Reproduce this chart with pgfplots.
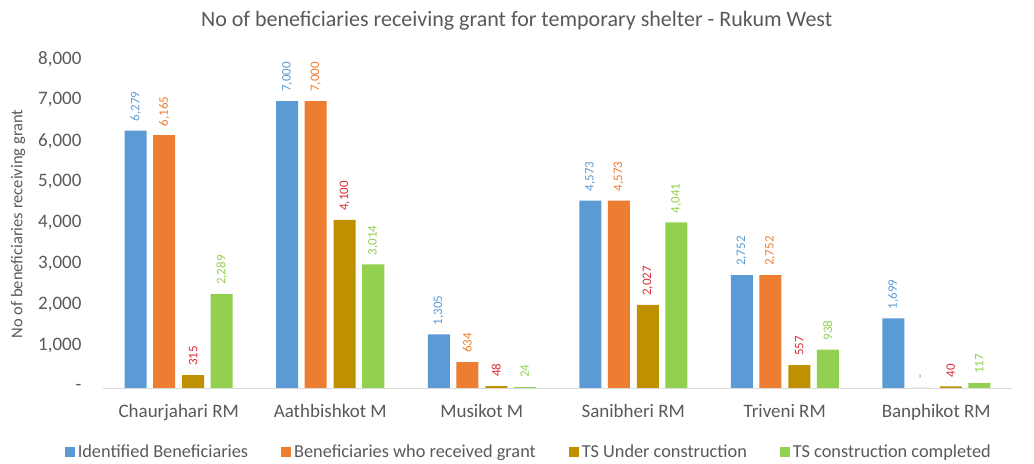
\documentclass[border=0pt]{standalone}
\usepackage{fontspec}
\setmainfont{Carlito}
\usepackage{pgfplots}
\pgfplotsset{compat=1.18}
\definecolor{cblue}{HTML}{5B9BD5}
\definecolor{corange}{HTML}{ED7D31}
\definecolor{cgold}{HTML}{BF9000}
\definecolor{cgreen}{HTML}{92D050}
\definecolor{cred}{RGB}{220,45,55}
\definecolor{txt}{HTML}{595959}
\definecolor{axl}{HTML}{D9D9D9}

\begin{document}
\begin{tikzpicture}
\begin{axis}[
  at={(0,0)}, anchor=south west,
  scale only axis, width=909pt, height=328pt,
  xmin=-0.5, xmax=5.5, ymin=0, ymax=8000,
  axis x line=bottom, axis y line=left,
  x axis line style={-, draw=axl, line width=0.8pt},
  y axis line style={draw=none},
  major tick length=0pt,
  xtick={0,...,5},
  xticklabels={Chaurjahari RM, Aathbishkot M, Musikot M, Sanibheri RM, Triveni RM, Banphikot RM},
  ytick={0,1000,...,8000},
  yticklabels={{-},{1,000},{2,000},{3,000},{4,000},{5,000},{6,000},{7,000},{8,000}},
  tick label style={font=\fontsize{19}{22}\selectfont, text=txt},
  /pgf/number format/assume math mode=true,
  yticklabel style={anchor=east, xshift=-18pt, yshift=1pt},
  xticklabel style={anchor=north, yshift=-13pt},
  ylabel={No of beneficiaries receiving grant},
  ylabel style={at={(axis description cs:-0.0935,0.5)}, anchor=center, font=\fontsize{16.5}{19}\selectfont, text=txt},
  title={No of beneficiaries receiving grant for temporary shelter - Rukum West},
  title style={at={(axis description cs:0.455,1.10)}, anchor=center, font=\fontsize{22}{26}\selectfont, text=txt},
  bar width=22pt,
  nodes near coords={\rotatebox{90}{\pgfmathfloatifflags{\pgfplotspointmeta}{0}{-}{\pgfmathprintnumber[1000 sep={,}]{\pgfplotspointmeta}}}},
  every node near coord/.append style={anchor=south, font=\fontsize{13}{15}\selectfont, inner sep=0pt, yshift=9pt},
  legend columns=4,
  legend style={at={(axis description cs:0.469,-0.195)}, anchor=center, draw=none, fill=none,
    font=\fontsize{18.3}{22}\selectfont, text=txt,
    /tikz/every even column/.append style={column sep=30pt},
    /tikz/every odd column/.append style={column sep=0pt},
    nodes={inner xsep=3pt}},
  legend image code/.code={\fill[#1] (0pt,-5pt) rectangle (10pt,5pt);},
]
\addplot[ybar, bar shift=-43pt, fill=cblue, draw=none, every node near coord/.append style={text=cblue, xshift=-43pt}]
  coordinates {(0,6279) (1,7000) (2,1305) (3,4573) (4,2752) (5,1699)};
\addplot[ybar, bar shift=-14.5pt, fill=corange, draw=none, every node near coord/.append style={text=corange, xshift=-14.5pt}]
  coordinates {(0,6165) (1,7000) (2,634) (3,4573) (4,2752) (5,0)};
\addplot[ybar, bar shift=14.5pt, fill=cgold, draw=none, every node near coord/.append style={text=cred, xshift=14.5pt}]
  coordinates {(0,315) (1,4100) (2,48) (3,2027) (4,557) (5,40)};
\addplot[ybar, bar shift=43pt, fill=cgreen, draw=none, every node near coord/.append style={text=cgreen, xshift=43pt}]
  coordinates {(0,2289) (1,3014) (2,24) (3,4041) (4,938) (5,117)};
\legend{Identified Beneficiaries, Beneficiaries who received grant, TS Under construction, TS construction completed}
\end{axis}
\path (-103pt,-71pt) rectangle (931pt,388pt);
\end{tikzpicture}
\end{document}
